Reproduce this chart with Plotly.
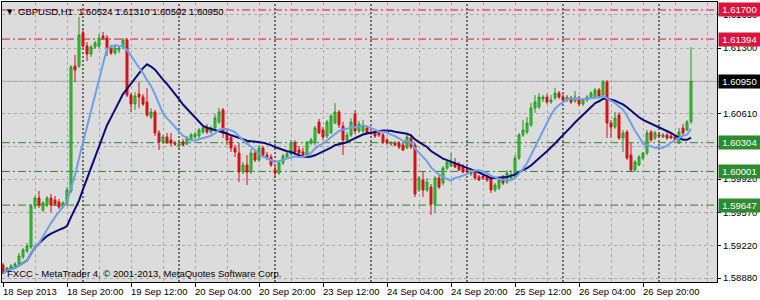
import plotly.graph_objects as go
import pandas as pd
from datetime import datetime, timedelta

symbol_title = "GBPUSD,H1"
first_bar_time = datetime(2013, 9, 18, 4)

opens = [1.59017,1.58964,1.58985,1.59006,1.59027,1.59101,1.59164,1.59206,1.59638,1.59722,
1.59595,1.59648,1.59722,1.59701,1.59680,1.59627,1.59669,1.59795,1.61111,1.61111,
1.61458,1.61321,1.61237,1.61310,1.61321,1.61426,1.61405,1.61300,1.61247,1.61279,
1.61310,1.61384,1.60805,1.60711,1.60816,1.60784,1.60732,1.60574,1.60627,1.60406,
1.60311,1.60364,1.60332,1.60300,1.60269,1.60311,1.60290,1.60332,1.60364,1.60374,
1.60416,1.60469,1.60416,1.60458,1.60521,1.60648,1.60406,1.60353,1.60248,1.60195,
1.59995,1.60069,1.59995,1.60195,1.60121,1.60248,1.60174,1.60153,1.60016,1.59985,
1.60090,1.60153,1.60185,1.60300,1.60227,1.60206,1.60174,1.60300,1.60300,1.60521,
1.60437,1.60374,1.60406,1.60511,1.60627,1.60479,1.60332,1.60385,1.60605,1.60427,
1.60427,1.60458,1.60406,1.60406,1.60406,1.60385,1.60332,1.60290,1.60300,1.60300,
1.60279,1.60248,1.60353,1.60279,1.59806,1.59911,1.59806,1.59837,1.59659,1.59932,
1.59879,1.60037,1.60058,1.60090,1.60069,1.60048,1.60016,1.59974,1.59995,1.59943,
1.59953,1.59943,1.59943,1.59806,1.59827,1.59932,1.59890,1.59932,1.59943,1.60143,
1.60385,1.60416,1.60490,1.60669,1.60679,1.60763,1.60784,1.60732,1.60774,1.60826,
1.60784,1.60753,1.60774,1.60742,1.60774,1.60711,1.60753,1.60784,1.60784,1.60858,
1.60805,1.60942,1.60511,1.60469,1.60595,1.60353,1.60416,1.60174,1.60016,1.60069,
1.60143,1.60195,1.60416,1.60353,1.60385,1.60364,1.60385,1.60374,1.60364,1.60300,
1.60458,1.60437,1.60524]

highs = [1.59038,1.58996,1.59027,1.59048,1.59143,1.59196,1.59248,1.59659,1.59743,1.59795,
1.59690,1.59743,1.59764,1.59743,1.59711,1.59690,1.59837,1.61121,1.61226,1.61626,
1.61489,1.61363,1.61332,1.61374,1.61447,1.61468,1.61437,1.61332,1.61332,1.61321,
1.61405,1.61405,1.60826,1.60837,1.60942,1.60816,1.60879,1.60669,1.60648,1.60437,
1.60385,1.60406,1.60406,1.60321,1.60321,1.60342,1.60374,1.60406,1.60416,1.60458,
1.60490,1.60500,1.60479,1.60605,1.60669,1.60669,1.60437,1.60374,1.60279,1.60300,
1.60100,1.60174,1.60237,1.60227,1.60279,1.60269,1.60206,1.60185,1.60069,1.60121,
1.60185,1.60206,1.60332,1.60332,1.60269,1.60248,1.60321,1.60353,1.60479,1.60553,
1.60469,1.60542,1.60605,1.60721,1.60648,1.60521,1.60416,1.60563,1.60648,1.60532,
1.60542,1.60479,1.60437,1.60427,1.60427,1.60406,1.60353,1.60321,1.60321,1.60321,
1.60300,1.60385,1.60395,1.60300,1.59953,1.59995,1.59932,1.59869,1.59953,1.59964,
1.60058,1.60121,1.60195,1.60143,1.60100,1.60079,1.60048,1.60027,1.60016,1.59964,
1.59974,1.59964,1.59964,1.59879,1.59932,1.59964,1.60016,1.60016,1.60174,1.60406,
1.60542,1.60574,1.60721,1.60805,1.60826,1.60805,1.60816,1.60805,1.60879,1.60847,
1.60816,1.60805,1.60795,1.60847,1.60795,1.60774,1.60805,1.60847,1.60879,1.60879,
1.60963,1.60963,1.60542,1.60627,1.60627,1.60437,1.60437,1.60300,1.60121,1.60174,
1.60206,1.60437,1.60437,1.60427,1.60406,1.60406,1.60406,1.60395,1.60385,1.60458,
1.60500,1.60542,1.61310]

lows = [1.58922,1.58943,1.58974,1.58985,1.59017,1.59080,1.59143,1.59185,1.59606,1.59617,
1.59574,1.59627,1.59574,1.59638,1.59606,1.59617,1.59648,1.59774,1.60942,1.61090,
1.61289,1.61163,1.61205,1.61289,1.61300,1.61384,1.61216,1.61226,1.61226,1.61247,
1.61289,1.60784,1.60627,1.60648,1.60669,1.60690,1.60574,1.60553,1.60374,1.60227,
1.60290,1.60290,1.60269,1.60269,1.60248,1.60269,1.60279,1.60321,1.60342,1.60353,
1.60395,1.60395,1.60395,1.60448,1.60500,1.60353,1.60279,1.60206,1.60153,1.59890,
1.59974,1.59858,1.59974,1.60100,1.60100,1.60153,1.60121,1.60048,1.59932,1.59964,
1.60069,1.60132,1.60164,1.60174,1.60164,1.60153,1.60153,1.60279,1.60279,1.60395,
1.60332,1.60353,1.60395,1.60500,1.60458,1.60174,1.60300,1.60364,1.60395,1.60406,
1.60406,1.60395,1.60385,1.60353,1.60364,1.60290,1.60279,1.60269,1.60269,1.60237,
1.60216,1.60237,1.60237,1.59732,1.59785,1.59732,1.59785,1.59543,1.59564,1.59816,
1.59858,1.60016,1.60048,1.60037,1.60006,1.59985,1.59974,1.59953,1.59911,1.59900,
1.59911,1.59890,1.59774,1.59785,1.59806,1.59858,1.59869,1.59911,1.59932,1.60121,
1.60364,1.60395,1.60469,1.60616,1.60658,1.60732,1.60711,1.60711,1.60753,1.60763,
1.60721,1.60732,1.60711,1.60721,1.60690,1.60690,1.60732,1.60763,1.60763,1.60774,
1.60784,1.60353,1.60353,1.60448,1.60332,1.60206,1.60121,1.59995,1.59995,1.60058,
1.60121,1.60174,1.60311,1.60332,1.60353,1.60353,1.60332,1.60342,1.60321,1.60290,
1.60385,1.60427,1.60502]

closes = [1.58933,1.58985,1.59006,1.59027,1.59111,1.59175,1.59217,1.59638,1.59722,1.59648,
1.59669,1.59722,1.59648,1.59659,1.59627,1.59669,1.59806,1.61100,1.61068,1.61437,
1.61321,1.61237,1.61310,1.61353,1.61405,1.61405,1.61300,1.61247,1.61300,1.61300,
1.61384,1.60805,1.60711,1.60795,1.60784,1.60711,1.60595,1.60627,1.60406,1.60311,
1.60364,1.60311,1.60300,1.60290,1.60290,1.60279,1.60353,1.60385,1.60395,1.60437,
1.60458,1.60416,1.60458,1.60563,1.60627,1.60406,1.60332,1.60248,1.60206,1.59995,
1.60069,1.59995,1.60195,1.60121,1.60248,1.60174,1.60153,1.60069,1.59985,1.60090,
1.60164,1.60185,1.60300,1.60206,1.60195,1.60174,1.60311,1.60332,1.60458,1.60406,
1.60364,1.60521,1.60584,1.60627,1.60490,1.60332,1.60385,1.60521,1.60427,1.60500,
1.60479,1.60406,1.60402,1.60374,1.60385,1.60311,1.60300,1.60300,1.60279,1.60258,
1.60227,1.60364,1.60258,1.59764,1.59932,1.59806,1.59890,1.59659,1.59932,1.59837,
1.60037,1.60100,1.60100,1.60048,1.60016,1.59995,1.59995,1.59995,1.59932,1.59911,
1.59932,1.59911,1.59806,1.59858,1.59911,1.59879,1.59985,1.59964,1.60143,1.60385,
1.60437,1.60511,1.60669,1.60732,1.60784,1.60784,1.60732,1.60753,1.60826,1.60784,
1.60753,1.60784,1.60732,1.60784,1.60711,1.60753,1.60784,1.60826,1.60858,1.60795,
1.60942,1.60511,1.60469,1.60563,1.60353,1.60406,1.60143,1.60016,1.60100,1.60153,
1.60195,1.60406,1.60332,1.60406,1.60374,1.60385,1.60353,1.60353,1.60332,1.60416,
1.60406,1.60521,1.60950]

time_labels = ["18 Sep 2013", "18 Sep 20:00", "19 Sep 12:00", "20 Sep 04:00", "20 Sep 20:00",
               "23 Sep 12:00", "24 Sep 04:00", "24 Sep 20:00", "25 Sep 12:00", "26 Sep 04:00",
               "26 Sep 20:00"]
price_ticks = [1.58880, 1.59220, 1.59570, 1.59920, 1.60260, 1.60610, 1.60950, 1.61300, 1.61650]
hidden_ticks = [1.60260, 1.60950]   # fully covered by level boxes in the terminal
red_levels = [1.61700, 1.61394]
green_levels = [1.60304, 1.60001, 1.59647]
fast_period = 10
slow_period = 20
copyright_text = "FXCC - MetaTrader 4, \u00a9 2001-2013, MetaQuotes Software Corp."

n = len(closes)
times = []
t = first_bar_time
while len(times) < n:
    if t.weekday() < 5:
        times.append(t)
    t += timedelta(hours=1)
xs = list(range(n))
label_step = 16
label_pos = [i * label_step for i in range(len(time_labels))]
day_starts = [i for i, tt in enumerate(times) if tt.hour == 0]

cs = pd.Series(closes)
ma_fast = cs.rolling(fast_period, min_periods=1).mean()
ma_slow = cs.rolling(slow_period, min_periods=1).mean()

FONT = "Liberation Sans, Arial, sans-serif"
fig = go.Figure()
fig.add_trace(go.Candlestick(
    x=xs, open=opens, high=highs, low=lows, close=closes,
    increasing=dict(line=dict(color="#1f9a1f", width=1), fillcolor="#3fcf2f"),
    decreasing=dict(line=dict(color="#d01010", width=1), fillcolor="#e01515"),
    whiskerwidth=0, showlegend=False, hoverinfo="skip"))
fig.add_trace(go.Scatter(x=xs, y=ma_slow, mode="lines",
                         line=dict(color="#0a0a78", width=2), showlegend=False, hoverinfo="skip"))
fig.add_trace(go.Scatter(x=xs, y=ma_fast, mode="lines",
                         line=dict(color="#6f9fe8", width=2), showlegend=False, hoverinfo="skip"))

shapes = []
for d in day_starts:
    shapes.append(dict(type="line", xref="x", yref="paper", x0=d, x1=d, y0=0, y1=1,
                       line=dict(color="black", width=1, dash="2px,2px"), layer="between"))
last_close = closes[-1]
shapes.append(dict(type="line", xref="paper", yref="y", x0=0, x1=1, y0=last_close, y1=last_close,
                   line=dict(color="#b0b0b0", width=1), layer="between"))
for v in red_levels:
    shapes.append(dict(type="line", xref="paper", yref="y", x0=0, x1=1, y0=v, y1=v,
                       line=dict(color="#dc143c", width=1, dash="8px,3px,2px,3px"), layer="between"))
for v in green_levels:
    shapes.append(dict(type="line", xref="paper", yref="y", x0=0, x1=1, y0=v, y1=v,
                       line=dict(color="#2f7f2f", width=1, dash="8px,3px,2px,3px"), layer="between"))

annotations = []
for i, lab in zip(label_pos, time_labels):
    annotations.append(dict(x=i, y=0, xref="x", yref="paper", text=lab, showarrow=False,
                            xanchor="left", yanchor="top", xshift=-2, yshift=-2,
                            font=dict(family=FONT, size=9.5, color="black")))

def price_box(v, bg):
    return dict(x=1, y=v, xref="paper", yref="y", text=f"{v:.5f}", showarrow=False,
                xanchor="left", yanchor="middle", xshift=1, bgcolor=bg, borderpad=1,
                width=39, align="center", font=dict(family=FONT, size=9.5, color="white"))

for v in red_levels:
    annotations.append(price_box(v, "#dc143c"))
for v in green_levels:
    annotations.append(price_box(v, "#2e8b2e"))
annotations.append(price_box(last_close, "#000000"))

header = f"{symbol_title}  {opens[-1]:.5f} {highs[-1]:.5f} {lows[-1]:.5f} {closes[-1]:.5f}"
annotations.append(dict(x=0, y=1, xref="paper", yref="paper", text="\u25bc", showarrow=False,
                        xanchor="left", yanchor="top", xshift=3, yshift=-4,
                        font=dict(family="DejaVu Sans", size=7, color="black")))
annotations.append(dict(x=0, y=1, xref="paper", yref="paper", text=header, showarrow=False,
                        xanchor="left", yanchor="top", xshift=14, yshift=-2,
                        font=dict(family=FONT, size=9.5, color="black")))
annotations.append(dict(x=0, y=0, xref="paper", yref="paper", text=copyright_text, showarrow=False,
                        xanchor="left", yanchor="bottom", xshift=3, yshift=1,
                        font=dict(family=FONT, size=9.5, color="black")))

tick_text = ["" if v in hidden_ticks else f"{v:.5f}" for v in price_ticks]

fig.update_layout(
    width=760, height=300,
    margin=dict(l=2, r=43, t=2, b=18),
    paper_bgcolor="white", plot_bgcolor="#dcdcdc",
    shapes=shapes, annotations=annotations,
    xaxis=dict(range=[-0.25, 178.5], rangeslider=dict(visible=False),
               tickvals=label_pos, ticks="outside", ticklen=4, tickcolor="black",
               showticklabels=False, showgrid=True, gridcolor="#a8a8a8", griddash="3px,3px",
               minor=dict(dtick=8, tick0=0, showgrid=True, gridcolor="#a8a8a8", griddash="3px,3px"),
               showline=True, linecolor="black", linewidth=1, mirror=True, zeroline=False),
    yaxis=dict(range=[1.58838, 1.61784], side="right", tickvals=price_ticks,
               ticktext=tick_text, ticks="outside", ticklen=3,
               tickcolor="black", tickfont=dict(family=FONT, size=9.5, color="black"),
               showgrid=True, gridcolor="#a8a8a8", griddash="3px,3px",
               showline=True, linecolor="black", linewidth=1, mirror=True, zeroline=False),
)
fig.write_html("out.html")
